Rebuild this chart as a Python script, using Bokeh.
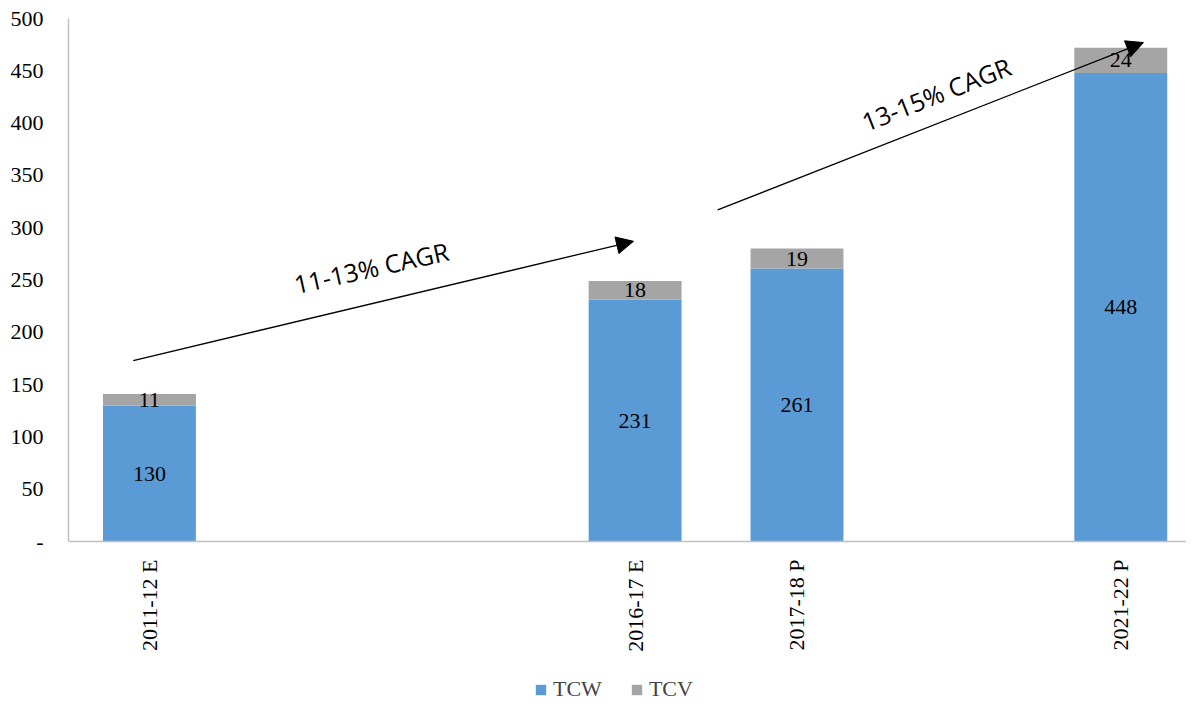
import math
from bokeh.plotting import figure
from bokeh.models import (FixedTicker, Legend, LegendItem, ColumnDataSource, Arrow,
                          NormalHead, Label)
from bokeh.embed import file_html
from bokeh.resources import INLINE
from bokeh.core.properties import value

# ---- data ----
slots = ["2011-12 E", "", "", "2016-17 E", "2017-18 P", "", "2021-22 P"]
years = ["2011-12 E", "2016-17 E", "2017-18 P", "2021-22 P"]
tcw = [130, 231, 261, 448]
tcv = [11, 18, 19, 24]
y_ticks = [0, 50, 100, 150, 200, 250, 300, 350, 400, 450, 500]

# CAGR annotations (start/end in data coords) and texts
cagr_text = ["11-13% CAGR", "13-15% CAGR"]
arrow_x0 = [-0.10, 3.51]
arrow_y0 = [173, 317]
arrow_x1 = [2.99, 6.14]
arrow_y1 = [287, 477]
text_x = [1.37, 4.86]
text_y = [262, 428]
text_angle = [12.5, 21.5]

BLUE = "#5B9BD5"
GREY = "#A5A5A5"
SERIF = "Liberation Serif"

xpos = [slots.index(c) for c in years]
src = ColumnDataSource(dict(
    x=xpos, tcw=tcw, tcv=tcv,
    tcw_mid=[w / 2 for w in tcw],
    tcv_mid=[w + v / 2 for w, v in zip(tcw, tcv)],
    tcw_lbl=[str(w) for w in tcw],
    tcv_lbl=[str(v) for v in tcv],
))

# frame extends below the value axis so the category labels and legend sit inside it
FRAME_H = 684
PX_PER_UNIT = 523 / 500
y_bottom = 500 - FRAME_H / PX_PER_UNIT

p = figure(frame_width=1118, frame_height=FRAME_H, output_backend="svg",
           toolbar_location=None, x_range=(-0.5, 6.406), y_range=(y_bottom, 500),
           min_border_left=68, min_border_top=18, min_border_right=0,
           min_border_bottom=0, x_axis_location=None)
p.outline_line_color = None
p.xgrid.grid_line_color = None
p.ygrid.grid_line_color = None

bars = p.vbar_stack(["tcw", "tcv"], x="x", width=0.574, color=[BLUE, GREY],
                    line_color=None, source=src)

p.text(x="x", y="tcw_mid", text="tcw_lbl", source=src, text_align="center",
       text_baseline="middle", text_font=value(SERIF), text_font_size="22px",
       text_color="black")
p.text(x="x", y="tcv_mid", text="tcv_lbl", source=src, text_align="center",
       text_baseline="middle", text_font=value(SERIF), text_font_size="22px",
       text_color="black")

# category axis fixed at value 0
from bokeh.models import LinearAxis
xaxis = LinearAxis(fixed_location=0)
p.add_layout(xaxis, "below")
xaxis.ticker = FixedTicker(ticks=xpos)
xaxis.major_label_overrides = {i: c for i, c in zip(xpos, years)}
xaxis.major_label_orientation = math.pi / 2

p.yaxis.ticker = FixedTicker(ticks=y_ticks)
p.yaxis.major_label_overrides = {0: "-"}
p.yaxis.bounds = (0, 500)
for ax in (xaxis, p.yaxis[0]):
    ax.axis_line_color = "#bfbfbf"
    ax.axis_line_width = 1.5
    ax.major_tick_line_color = None
    ax.minor_tick_line_color = None
    ax.major_tick_out = 0
    ax.major_tick_in = 0
    ax.major_label_text_font = SERIF
    ax.major_label_text_font_size = "22px"
    ax.major_label_text_color = "black"
p.yaxis.major_label_standoff = 25
xaxis.major_label_standoff = 18

# CAGR arrows and labels
for i in range(len(cagr_text)):
    p.add_layout(Arrow(end=NormalHead(size=17, fill_color="black", line_color="black"),
                       x_start=arrow_x0[i], y_start=arrow_y0[i],
                       x_end=arrow_x1[i], y_end=arrow_y1[i],
                       line_color="black", line_width=1.3))
    p.add_layout(Label(x=text_x[i], y=text_y[i], text=cagr_text[i],
                       angle=text_angle[i], angle_units="deg",
                       text_align="center", text_baseline="middle",
                       text_font="Open Sans", text_font_size="25px",
                       text_color="black"))

legend = Legend(items=[LegendItem(label="TCW", renderers=[bars[0]]),
                       LegendItem(label="TCV", renderers=[bars[1]])],
                orientation="horizontal", location=(466, 0),
                label_text_font=SERIF, label_text_font_size="22px",
                glyph_width=13, glyph_height=13, label_standoff=6, spacing=28,
                border_line_color=None, background_fill_alpha=0,
                padding=0, margin=0)
p.add_layout(legend, "center")

open("out.html", "w").write(file_html(p, INLINE))
